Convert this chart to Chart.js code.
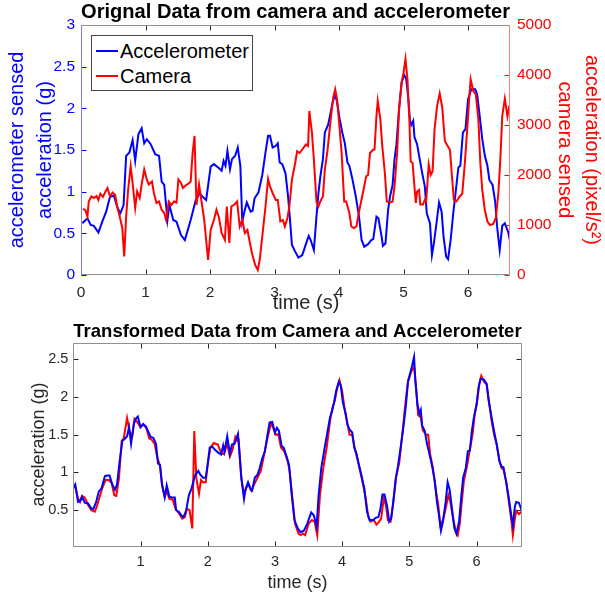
<!DOCTYPE html>
<html>
<head>
<meta charset="utf-8">
<script src="https://cdn.jsdelivr.net/npm/chart.js"></script>
<style>
  body { margin: 0; background: #fff; }
  #wrap { position: relative; width: 605px; height: 594px; overflow: hidden; }
  canvas { position: absolute; left: 0; }
  #topChart { top: 0; }
  #bottomChart { top: 318px; }
  #legend {
    position: absolute; left: 91px; top: 35px; width: 162px; height: 56px;
    box-sizing: border-box; border: 1px solid #444; background: #fff;
    font: 20px "Liberation Sans", Arial, Helvetica, sans-serif; color: #000;
  }
  #legend .row { position: absolute; left: 0; height: 24px; line-height: 24px; white-space: nowrap; }
  #legend .swatch { position: absolute; left: 4px; top: 11px; width: 22px; height: 2px; }
  #legend .txt { position: absolute; left: 28px; top: 0; }
</style>
</head>
<body>
<div id="wrap">
  <canvas id="topChart" width="605" height="318"></canvas>
  <canvas id="bottomChart" width="605" height="276"></canvas>
  <div id="legend">
    <div class="row" style="top:3px"><span class="swatch" style="background:#0000ff"></span><span class="txt">Accelerometer</span></div>
    <div class="row" style="top:28px"><span class="swatch" style="background:#ff0000"></span><span class="txt">Camera</span></div>
  </div>
</div>
<script>
// ---------------- data ----------------

// top plot: accelerometer (g), left axis
const accTime = [0.02, 0.10, 0.15, 0.20, 0.27, 0.33, 0.39, 0.45, 0.51, 0.56, 0.61, 0.66, 0.70, 0.75, 0.80, 0.84, 0.89, 0.94, 0.98, 1.02,
  1.08, 1.15, 1.21, 1.25, 1.29, 1.34, 1.37, 1.43, 1.48, 1.55, 1.61, 1.70, 1.78, 1.84, 1.91, 1.94, 2.01, 2.06, 2.14, 2.18,
  2.21, 2.24, 2.27, 2.31, 2.34, 2.39, 2.43, 2.47, 2.50, 2.53, 2.57, 2.63, 2.66, 2.69, 2.75, 2.81, 2.86, 2.90, 2.93, 2.97,
  3.02, 3.05, 3.08, 3.12, 3.17, 3.21, 3.24, 3.27, 3.32, 3.37, 3.43, 3.49, 3.53, 3.56, 3.61, 3.65, 3.68, 3.71, 3.75, 3.78,
  3.83, 3.86, 3.90, 3.94, 3.97, 4.01, 4.05, 4.09, 4.13, 4.16, 4.21, 4.26, 4.31, 4.35, 4.39, 4.45, 4.50, 4.53, 4.58, 4.61,
  4.66, 4.68, 4.72, 4.76, 4.79, 4.83, 4.86, 4.89, 4.93, 4.97, 5.01, 5.04, 5.07, 5.10, 5.12, 5.15, 5.17, 5.21, 5.25, 5.29,
  5.33, 5.36, 5.41, 5.44, 5.47, 5.51, 5.55, 5.59, 5.62, 5.66, 5.69, 5.73, 5.77, 5.80, 5.85, 5.88, 5.92, 5.96, 6.00, 6.05,
  6.11, 6.14, 6.18, 6.22, 6.26, 6.30, 6.33, 6.38, 6.42, 6.45, 6.49, 6.53, 6.57, 6.62, 6.66];
const accVal = [0.62, 0.68, 0.60, 0.59, 0.51, 0.64, 0.76, 0.94, 0.95, 0.82, 0.74, 0.84, 1.43, 1.47, 1.62, 1.37, 1.69, 1.76, 1.58, 1.63,
  1.57, 1.45, 1.43, 1.12, 1.08, 0.66, 0.84, 0.66, 0.64, 0.48, 0.42, 0.66, 0.90, 0.98, 0.92, 0.90, 1.30, 1.33, 1.28, 1.25,
  1.37, 1.31, 1.49, 1.27, 1.39, 1.43, 1.53, 1.31, 0.64, 0.75, 0.87, 0.76, 0.77, 0.92, 0.99, 1.20, 1.47, 1.67, 1.67, 1.53,
  1.55, 1.58, 1.35, 1.33, 1.22, 0.94, 0.66, 0.36, 0.28, 0.21, 0.24, 0.38, 0.47, 0.42, 0.30, 0.70, 0.98, 1.18, 1.39, 1.71,
  1.80, 1.91, 2.07, 2.17, 2.07, 1.87, 1.71, 1.58, 1.35, 1.31, 1.14, 0.94, 0.70, 0.42, 0.34, 0.37, 0.42, 0.43, 0.70, 0.68,
  0.46, 0.35, 0.38, 0.78, 0.94, 1.08, 1.39, 1.57, 1.99, 2.31, 2.40, 2.36, 2.15, 1.85, 1.80, 1.85, 1.65, 1.57, 1.39, 1.22,
  1.06, 0.74, 0.62, 0.24, 0.38, 0.62, 0.87, 0.76, 0.46, 0.22, 0.19, 0.42, 0.74, 0.94, 1.29, 1.31, 1.71, 1.75, 2.11, 2.23,
  2.23, 2.17, 1.91, 1.63, 1.43, 1.31, 1.14, 1.08, 0.88, 0.58, 0.30, 0.59, 0.62, 0.52, 0.37];

// top plot: camera (pixel/s^2), right axis
const camTime = [0.03, 0.07, 0.10, 0.12, 0.16, 0.20, 0.24, 0.27, 0.30, 0.34, 0.38, 0.41, 0.45, 0.49, 0.53, 0.56, 0.60, 0.64, 0.67, 0.70,
  0.73, 0.77, 0.80, 0.84, 0.87, 0.91, 0.94, 0.98, 1.02, 1.05, 1.10, 1.13, 1.17, 1.21, 1.25, 1.29, 1.32, 1.36, 1.40, 1.44,
  1.48, 1.51, 1.55, 1.58, 1.62, 1.68, 1.70, 1.73, 1.76, 1.79, 1.83, 1.91, 1.97, 2.01, 2.06, 2.10, 2.14, 2.18, 2.23, 2.26,
  2.30, 2.33, 2.38, 2.42, 2.46, 2.50, 2.54, 2.58, 2.61, 2.65, 2.70, 2.74, 2.77, 2.81, 2.86, 2.90, 2.93, 2.97, 3.02, 3.05,
  3.09, 3.13, 3.16, 3.20, 3.23, 3.27, 3.32, 3.35, 3.39, 3.43, 3.47, 3.49, 3.52, 3.54, 3.58, 3.61, 3.65, 3.68, 3.71, 3.75,
  3.78, 3.82, 3.87, 3.91, 3.94, 3.97, 4.01, 4.04, 4.08, 4.11, 4.16, 4.19, 4.23, 4.27, 4.31, 4.37, 4.42, 4.45, 4.48, 4.53,
  4.55, 4.58, 4.60, 4.64, 4.67, 4.71, 4.74, 4.79, 4.83, 4.86, 4.90, 4.93, 4.97, 5.00, 5.03, 5.06, 5.09, 5.11, 5.14, 5.16,
  5.19, 5.21, 5.24, 5.26, 5.30, 5.33, 5.35, 5.39, 5.42, 5.45, 5.48, 5.52, 5.56, 5.60, 5.64, 5.67, 5.72, 5.75, 5.78, 5.82,
  5.87, 5.91, 5.95, 5.99, 6.02, 6.04, 6.08, 6.12, 6.16, 6.19, 6.22, 6.26, 6.30, 6.34, 6.39, 6.43, 6.47, 6.50, 6.53, 6.57,
  6.61, 6.64, 6.66];
const camVal = [1325, 1290, 1170, 1470, 1570, 1540, 1580, 1500, 1625, 1560, 1670, 1740, 1570, 1650, 1600, 1370, 1170, 940, 370, 1170,
  1700, 2175, 1840, 1340, 1670, 1540, 1810, 2110, 1910, 1810, 1870, 1640, 1440, 1470, 1305, 1240, 1100, 1470, 1400, 1470,
  1450, 1910, 1840, 1740, 1790, 1840, 1870, 2440, 2780, 1400, 1810, 1100, 300, 900, 1100, 1305, 1140, 840, 700, 1370,
  640, 1370, 1410, 1470, 970, 1100, 840, 900, 700, 435, 200, 100, 300, 770, 1370, 1920, 1770, 1640, 1500, 1500,
  1070, 1100, 970, 1140, 1370, 1910, 2240, 2475, 2440, 2510, 2580, 2610, 2580, 3280, 2840, 2310, 1470, 1370, 1470, 1570,
  2110, 2475, 3110, 3550, 3715, 3510, 2910, 2440, 1470, 1470, 1240, 970, 940, 970, 1270, 1640, 1975, 2000, 2440, 2510,
  2510, 3180, 3480, 3110, 2580, 2040, 1470, 1450, 1470, 1770, 2440, 3310, 3850, 4050, 4320, 3920, 3110, 2275, 2240, 1910,
  1440, 1670, 1700, 1410, 1410, 1500, 1470, 2210, 2000, 2070, 2910, 3380, 3630, 3350, 2680, 2610, 2500, 1975, 1500, 1470,
  1570, 1625, 2240, 2980, 3580, 3915, 3680, 3610, 3110, 2240, 1700, 1300, 1070, 1000, 1020, 1140, 1640, 2310, 3180, 3525,
  3170, 3380, 3420];

// bottom plot: accelerometer (g)
const tfAccTime = [0.00, 0.03, 0.07, 0.10, 0.13, 0.17, 0.22, 0.27, 0.30, 0.34, 0.38, 0.42, 0.47, 0.50, 0.54, 0.58, 0.62, 0.65, 0.69, 0.73,
  0.76, 0.80, 0.83, 0.86, 0.90, 0.93, 0.96, 1.00, 1.04, 1.08, 1.11, 1.15, 1.19, 1.23, 1.26, 1.29, 1.32, 1.36, 1.39, 1.43,
  1.47, 1.51, 1.53, 1.57, 1.61, 1.64, 1.68, 1.72, 1.76, 1.81, 1.86, 1.89, 1.93, 1.97, 2.00, 2.03, 2.07, 2.12, 2.16, 2.20,
  2.23, 2.25, 2.29, 2.33, 2.36, 2.40, 2.45, 2.47, 2.50, 2.54, 2.56, 2.60, 2.64, 2.66, 2.70, 2.74, 2.77, 2.81, 2.85, 2.89,
  2.92, 2.96, 3.00, 3.03, 3.06, 3.10, 3.13, 3.17, 3.21, 3.25, 3.29, 3.34, 3.38, 3.43, 3.48, 3.54, 3.58, 3.62, 3.65, 3.69,
  3.74, 3.78, 3.82, 3.85, 3.88, 3.91, 3.95, 3.98, 4.01, 4.05, 4.08, 4.11, 4.15, 4.18, 4.21, 4.25, 4.29, 4.33, 4.37, 4.41,
  4.46, 4.50, 4.54, 4.57, 4.60, 4.63, 4.67, 4.70, 4.73, 4.76, 4.80, 4.83, 4.87, 4.91, 4.95, 4.98, 5.02, 5.04, 5.07, 5.09,
  5.12, 5.15, 5.17, 5.19, 5.23, 5.26, 5.30, 5.34, 5.38, 5.41, 5.44, 5.47, 5.50, 5.54, 5.57, 5.60, 5.64, 5.67, 5.70, 5.74,
  5.77, 5.80, 5.84, 5.87, 5.90, 5.93, 5.96, 6.00, 6.03, 6.06, 6.11, 6.15, 6.18, 6.22, 6.26, 6.30, 6.34, 6.37, 6.40, 6.44,
  6.48, 6.52, 6.54, 6.57, 6.59, 6.63, 6.67];
const tfAccVal = [0.79, 0.84, 0.61, 0.62, 0.68, 0.60, 0.59, 0.52, 0.52, 0.61, 0.75, 0.79, 0.95, 0.96, 0.96, 0.84, 0.77, 0.84, 1.15, 1.42,
  1.44, 1.48, 1.60, 1.38, 1.64, 1.71, 1.74, 1.60, 1.64, 1.61, 1.55, 1.47, 1.46, 1.38, 1.12, 1.10, 0.84, 0.67, 0.83, 0.68,
  0.67, 0.67, 0.50, 0.48, 0.43, 0.41, 0.50, 0.70, 0.79, 0.96, 1.02, 0.97, 0.93, 0.93, 1.11, 1.33, 1.34, 1.29, 1.26, 1.24,
  1.36, 1.28, 1.48, 1.25, 1.37, 1.38, 1.51, 1.28, 0.93, 0.65, 0.77, 0.87, 0.77, 0.76, 0.93, 0.97, 1.05, 1.18, 1.28, 1.50,
  1.66, 1.67, 1.53, 1.59, 1.55, 1.35, 1.33, 1.22, 1.10, 0.70, 0.37, 0.26, 0.21, 0.23, 0.32, 0.47, 0.43, 0.28, 0.70, 1.06,
  1.33, 1.53, 1.73, 1.81, 1.93, 2.08, 2.20, 2.15, 1.93, 1.79, 1.63, 1.57, 1.53, 1.33, 1.26, 1.10, 0.95, 0.79, 0.48, 0.37,
  0.37, 0.40, 0.41, 0.52, 0.71, 0.71, 0.55, 0.35, 0.39, 0.61, 0.93, 1.08, 1.33, 1.59, 1.90, 2.21, 2.34, 2.41, 2.53, 2.21,
  1.90, 1.78, 1.83, 1.62, 1.55, 1.39, 1.24, 1.08, 0.88, 0.61, 0.44, 0.23, 0.35, 0.61, 0.87, 0.77, 0.48, 0.26, 0.19, 0.35,
  0.66, 0.93, 1.06, 1.28, 1.29, 1.55, 1.73, 1.90, 2.13, 2.24, 2.23, 2.17, 1.95, 1.75, 1.55, 1.37, 1.15, 1.08, 1.07, 0.88,
  0.66, 0.41, 0.30, 0.55, 0.61, 0.60, 0.50];

// bottom plot: transformed camera (g)
const tfCamTime = [0.00, 0.03, 0.07, 0.10, 0.13, 0.17, 0.22, 0.27, 0.32, 0.35, 0.39, 0.43, 0.48, 0.53, 0.57, 0.61, 0.64, 0.68, 0.72, 0.75,
  0.80, 0.84, 0.88, 0.91, 0.95, 1.00, 1.04, 1.09, 1.13, 1.16, 1.21, 1.25, 1.29, 1.32, 1.36, 1.39, 1.43, 1.48, 1.52, 1.57,
  1.62, 1.66, 1.69, 1.73, 1.77, 1.80, 1.83, 1.87, 1.90, 1.93, 1.97, 2.00, 2.04, 2.09, 2.15, 2.20, 2.24, 2.29, 2.33, 2.37,
  2.41, 2.44, 2.46, 2.50, 2.54, 2.58, 2.61, 2.65, 2.69, 2.74, 2.79, 2.84, 2.89, 2.94, 2.97, 3.01, 3.05, 3.09, 3.14, 3.19,
  3.22, 3.26, 3.30, 3.35, 3.38, 3.42, 3.45, 3.50, 3.55, 3.59, 3.63, 3.67, 3.72, 3.77, 3.82, 3.85, 3.89, 3.93, 3.96, 4.00,
  4.04, 4.08, 4.11, 4.15, 4.19, 4.24, 4.29, 4.31, 4.35, 4.39, 4.42, 4.47, 4.51, 4.55, 4.58, 4.62, 4.65, 4.68, 4.72, 4.76,
  4.80, 4.85, 4.90, 4.95, 4.98, 5.03, 5.07, 5.10, 5.13, 5.17, 5.20, 5.25, 5.28, 5.31, 5.35, 5.39, 5.43, 5.46, 5.50, 5.54,
  5.58, 5.61, 5.65, 5.69, 5.72, 5.75, 5.78, 5.81, 5.86, 5.90, 5.94, 5.97, 6.01, 6.04, 6.07, 6.11, 6.15, 6.19, 6.22, 6.26,
  6.30, 6.34, 6.37, 6.40, 6.44, 6.48, 6.52, 6.54, 6.57, 6.59, 6.63, 6.67];
const tfCamVal = [0.85, 0.81, 0.66, 0.61, 0.69, 0.67, 0.57, 0.50, 0.48, 0.55, 0.67, 0.79, 0.90, 0.90, 0.86, 0.70, 0.69, 0.93, 1.42, 1.45,
  1.72, 1.53, 1.50, 1.71, 1.67, 1.60, 1.64, 1.58, 1.45, 1.44, 1.38, 1.20, 1.09, 0.84, 0.68, 0.75, 0.65, 0.64, 0.52, 0.46,
  0.39, 0.41, 0.52, 0.50, 0.26, 1.55, 0.93, 0.72, 0.90, 0.87, 0.87, 1.11, 1.33, 1.39, 1.37, 1.26, 1.24, 1.38, 1.21, 1.30,
  1.47, 1.42, 1.43, 0.93, 0.70, 0.81, 0.84, 0.76, 0.84, 0.93, 1.02, 1.24, 1.46, 1.65, 1.60, 1.50, 1.51, 1.33, 1.28, 1.15,
  1.01, 0.66, 0.32, 0.19, 0.17, 0.19, 0.17, 0.32, 0.37, 0.35, 0.17, 0.70, 1.06, 1.33, 1.68, 1.84, 1.95, 2.13, 2.22, 2.08,
  1.82, 1.64, 1.50, 1.50, 1.31, 1.13, 0.93, 0.84, 0.66, 0.41, 0.35, 0.37, 0.31, 0.35, 0.39, 0.66, 0.57, 0.37, 0.35, 0.59,
  0.93, 1.13, 1.55, 1.99, 2.20, 2.34, 2.40, 2.13, 1.76, 1.73, 1.56, 1.50, 1.50, 1.24, 1.06, 0.79, 0.57, 0.30, 0.37, 0.52,
  0.70, 0.61, 0.39, 0.23, 0.17, 0.32, 0.61, 0.88, 1.10, 1.30, 1.50, 1.75, 1.95, 2.17, 2.28, 2.20, 2.17, 1.91, 1.70, 1.50,
  1.37, 1.16, 1.06, 1.04, 0.88, 0.61, 0.35, 0.17, 0.39, 0.49, 0.45, 0.48];

// tick values
const topXTicks = [0, 1, 2, 3, 4, 5, 6];
const topLeftTicks = [0, 0.5, 1, 1.5, 2, 2.5, 3];
const topRightTicks = [0, 1000, 2000, 3000, 4000, 5000];
const botXTicks = [1, 2, 3, 4, 5, 6];
const botYTicks = [0.5, 1, 1.5, 2, 2.5];

// ---------------- helpers ----------------
const FONT = '"Liberation Sans", Arial, Helvetica, sans-serif';
Chart.defaults.font.family = FONT;

const BLUE = '#0000ff';
const RED = '#ff0000';
const INK = '#262626';
const BOX = '#8f8f8f';

const toPoints = (xs, ys) => xs.map((x, i) => ({ x: x, y: ys[i] }));
const fixedTicks = (vals) => (scale) => { scale.ticks = vals.map(v => ({ value: v })); };
const plainLabel = (v) => String(v);
const noGrid = { display: false, drawTicks: false };

// box round the plot + inward tick marks, like the matlab axes
function framePlugin(cfg) {
  return {
    id: 'frame',
    afterDatasetsDraw(chart) {
      const { ctx, chartArea: a, scales } = chart;
      const L = Math.round(a.left) + 0.5, R = Math.round(a.right) - 0.5;
      const T = Math.round(a.top) + 0.5, B = Math.round(a.bottom) - 0.5;
      const len = 5;
      ctx.save();
      ctx.lineWidth = 1;
      function seg(x1, y1, x2, y2, c) {
        ctx.strokeStyle = c;
        ctx.beginPath(); ctx.moveTo(x1, y1); ctx.lineTo(x2, y2); ctx.stroke();
      }
      // x ticks, bottom and top
      scales.x.ticks.forEach(t => {
        const px = Math.round(scales.x.getPixelForValue(t.value)) + 0.5;
        seg(px, B, px, B - len, cfg.tickX);
        seg(px, T, px, T + len, cfg.tickX);
      });
      // left ticks
      const yl = scales[cfg.leftId];
      yl.ticks.forEach(t => {
        const py = Math.round(yl.getPixelForValue(t.value)) + 0.5;
        seg(L, py, L + len, py, cfg.tickLeft);
        if (!cfg.rightId) seg(R, py, R - len, py, cfg.tickLeft);
      });
      if (cfg.rightId) {
        const yr = scales[cfg.rightId];
        yr.ticks.forEach(t => {
          const py = Math.round(yr.getPixelForValue(t.value)) + 0.5;
          seg(R, py, R - len, py, cfg.tickRight);
        });
      }
      seg(L, T, R, T, cfg.top);
      seg(L, B, R, B, cfg.bottom);
      seg(L, T, L, B, cfg.left);
      seg(R, T, R, B, cfg.right);
      ctx.restore();
    }
  };
}

// the upper x label sits a little right of centre in the original
const topXLabel = {
  id: 'topXLabel',
  afterDraw(chart) {
    const ctx = chart.ctx;
    ctx.save();
    ctx.font = '20px ' + FONT;
    ctx.fillStyle = INK;
    ctx.textAlign = 'center';
    ctx.textBaseline = 'middle';
    ctx.fillText('time (s)', 306, 303);
    ctx.restore();
  }
};

// ---------------- top chart ----------------
new Chart(document.getElementById('topChart'), {
  type: 'line',
  data: {
    datasets: [
      { label: 'Camera', data: toPoints(camTime, camVal), yAxisID: 'y2', borderColor: RED, borderWidth: 2, pointRadius: 0, tension: 0 },
      { label: 'Accelerometer', data: toPoints(accTime, accVal), yAxisID: 'y', borderColor: BLUE, borderWidth: 2, pointRadius: 0, tension: 0 }
    ]
  },
  options: {
    responsive: false,
    animation: false,
    layout: { padding: 0 },
    plugins: {
      legend: { display: false },
      tooltip: { enabled: false },
      title: {
        display: true,
        fullSize: false,
        text: 'Orignal Data from camera and accelerometer',
        color: '#000',
        font: { size: 20.3, weight: 'bold' },
        padding: { top: 0, bottom: 0.6 }
      }
    },
    scales: {
      x: {
        type: 'linear', min: 0, max: 6.65,
        afterBuildTicks: fixedTicks(topXTicks),
        afterFit: (s) => { s.height = 43; },
        grid: noGrid,
        border: { display: false },
        ticks: { color: INK, font: { size: 15.5 }, padding: 8, maxRotation: 0, autoSkip: false, callback: plainLabel },
        title: { display: false }
      },
      y: {
        position: 'left', min: 0, max: 3,
        afterBuildTicks: fixedTicks(topLeftTicks),
        afterFit: (s) => { s.width = 81; },
        grid: noGrid,
        border: { display: false },
        ticks: { color: BLUE, font: { size: 15.5 }, padding: 6, autoSkip: false, callback: plainLabel },
        title: {
          display: true, text: ['accelerometer sensed', 'acceleration (g)'], color: BLUE,
          font: { size: 20, lineHeight: 1.4 }, padding: { top: 3, bottom: 0 }
        }
      },
      y2: {
        position: 'right', min: 0, max: 5000,
        afterBuildTicks: fixedTicks(topRightTicks),
        afterFit: (s) => { s.width = 95; },
        grid: noGrid,
        border: { display: false },
        ticks: { color: RED, font: { size: 15.5 }, padding: 7, autoSkip: false, callback: plainLabel },
        title: {
          display: true, text: ['acceleration (pixel/s²)', 'camera sensed'], color: RED,
          font: { size: 20, lineHeight: 1.35 }, padding: { top: 0, bottom: 0 }
        }
      }
    }
  },
  plugins: [framePlugin({
    leftId: 'y', rightId: 'y2',
    tickX: INK, tickLeft: BLUE, tickRight: RED,
    top: BOX, bottom: BOX, left: '#8080ff', right: '#ff8080'
  }), topXLabel]
});

// ---------------- bottom chart ----------------
new Chart(document.getElementById('bottomChart'), {
  type: 'line',
  data: {
    datasets: [
      { label: 'Accelerometer', data: toPoints(tfAccTime, tfAccVal), borderColor: BLUE, borderWidth: 2, pointRadius: 0, tension: 0 },
      { label: 'Camera', data: toPoints(tfCamTime, tfCamVal), borderColor: RED, borderWidth: 2, pointRadius: 0, tension: 0 }
    ]
  },
  options: {
    responsive: false,
    animation: false,
    layout: { padding: { left: 0, right: 83.4, top: 0, bottom: 0 } },
    plugins: {
      legend: { display: false },
      tooltip: { enabled: false },
      title: {
        display: true,
        fullSize: false,
        text: 'Transformed Data from Camera and Accelerometer',
        color: '#000',
        font: { size: 18.5, weight: 'bold' },
        padding: { top: 2.4, bottom: 0 }
      }
    },
    scales: {
      x: {
        type: 'linear', min: 0, max: 6.67,
        afterBuildTicks: fixedTicks(botXTicks),
        afterFit: (s) => { s.height = 47.5; },
        grid: noGrid,
        border: { display: false },
        ticks: { color: INK, font: { size: 14.5 }, padding: 7, maxRotation: 0, autoSkip: false, callback: plainLabel },
        title: { display: true, text: 'time (s)', color: INK, font: { size: 18 }, padding: { top: 0, bottom: 0 } }
      },
      y: {
        position: 'left', min: 0.02, max: 2.72,
        afterBuildTicks: fixedTicks(botYTicks),
        afterFit: (s) => { s.width = 73.3; },
        grid: noGrid,
        border: { display: false },
        ticks: { color: INK, font: { size: 14.5 }, padding: 5, autoSkip: false, callback: plainLabel },
        title: { display: true, text: 'acceleration (g)', color: INK, font: { size: 18 }, padding: { top: 28, bottom: 0 } }
      }
    }
  },
  plugins: [framePlugin({
    leftId: 'y',
    tickX: INK, tickLeft: INK,
    top: BOX, bottom: BOX, left: BOX, right: BOX
  })]
});
</script>
</body>
</html>
